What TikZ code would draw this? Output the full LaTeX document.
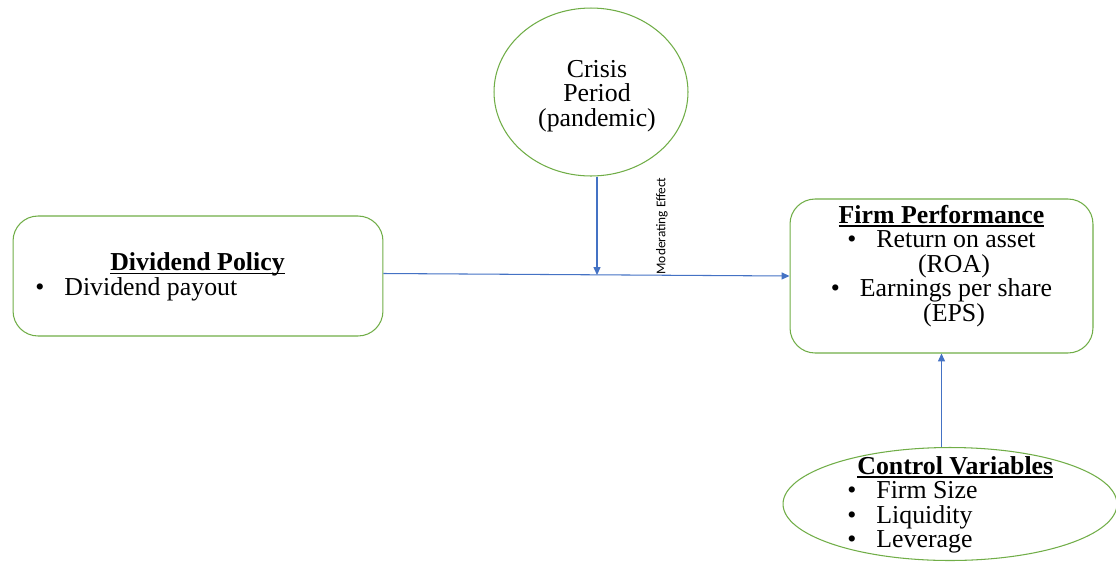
\documentclass[tikz,border=0pt]{standalone}
\usepackage{fontspec}
\setmainfont{Liberation Serif}
\newfontfamily\modfont{Carlito}
\usetikzlibrary{arrows.meta,positioning,shapes.geometric}
\definecolor{frame}{HTML}{70AD47}
\definecolor{link}{HTML}{4472C4}
\newcommand{\bul}{\textbullet\hspace{0.4cm}}
\newcommand{\head}[1]{\sbox0{\textbf{#1}}\rlap{\rule[-1.7pt]{\wd0}{0.7pt}}\usebox0}

\begin{document}
\begin{tikzpicture}[x=0.02cm,y=-0.02cm,
    box/.style={draw=frame,line width=0.6pt,rounded corners=0.5cm},
    oval/.style={draw=frame,line width=0.6pt,ellipse,inner sep=0pt},
    txt/.style={inner sep=0pt,font={\fontsize{14.7}{13.9}\selectfont\lineskiplimit=-10pt}},
    arr/.style={draw=link,line width=0.6pt,-{Triangle[length=4.5pt,width=4pt]}}]
  \useasboundingbox (0,0) rectangle (1116,562);

  % Shapes
  \node[box,minimum width=7.4cm,minimum height=2.4cm] (div) at (198,276) {};
  \node[box,minimum width=6.06cm,minimum height=3.08cm] (firm) at (941.5,276) {};
  \node[oval,minimum width=3.88cm,minimum height=3.36cm] (crisis) at (591,92) {};
  \node[oval,minimum width=6.68cm,minimum height=2.26cm] (ctrl) at (950,504) {};

  % Texts
  \node[txt,align=left,anchor=west] (divtext) at (35,277)
    {\hspace*{1.5cm}\head{Dividend Policy}\\ \bul Dividend payout};
  \node[txt,align=center,below=0.13cm of firm.north] (firmtext)
    {\head{Firm Performance}\\ \bul Return on asset\\ \hspace*{0.5cm}(ROA)\\
     \bul Earnings per share\\ \hspace*{0.5cm}(EPS)};
  \node[txt,align=center] (crisistext) at (597,96) {Crisis\\ Period\\ (pandemic)};
  \node[txt,align=left,anchor=west] (ctrltext) at (847,505)
    {\hspace*{0.2cm}\head{Control Variables}\\ \bul Firm Size\\ \bul Liquidity\\ \bul Leverage};

  % Connectors
  \coordinate (mod) at (597,275);
  \draw[arr] ([yshift=0.05cm]div.east) -- (firm.west);
  \draw[arr] (crisis.south -| mod) -- (mod);
  \draw[arr] (firm.south |- ctrl.north) -- (firm.south);
  \node[rotate=90,inner sep=0pt,font={\modfont\fontsize{7.6}{9}\selectfont}] (modlabel) at (662,226) {Moderating Effect};
\end{tikzpicture}
\end{document}
